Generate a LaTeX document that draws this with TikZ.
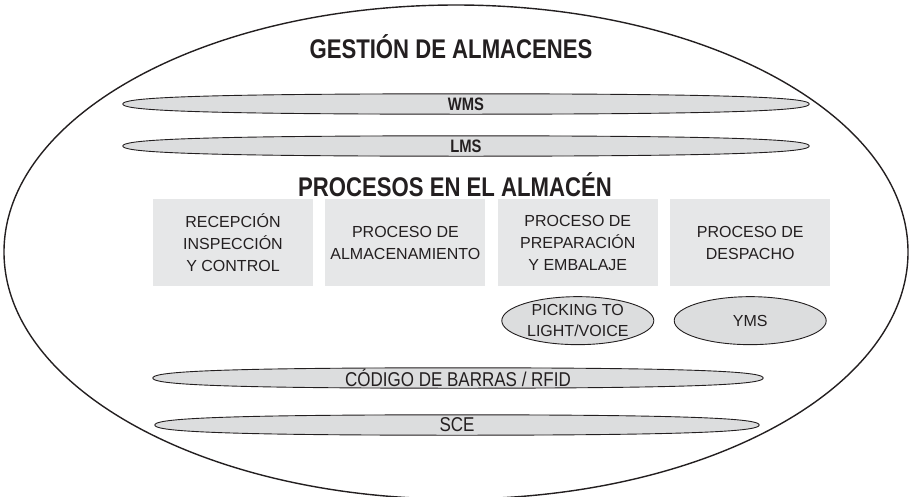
\documentclass[tikz,border=0pt]{standalone}
\usepackage{fontspec}
\setmainfont{Liberation Sans}
\newfontfamily\narrowfont[FakeStretch=0.82]{Liberation Sans}
\newfontfamily\layerfont[FakeStretch=0.85]{Liberation Sans}
\usetikzlibrary{shapes.geometric, positioning, calc}
\definecolor{ink}{HTML}{231F20}
\definecolor{bandgray}{HTML}{DCDDDE}
\definecolor{boxgray}{HTML}{E6E7E8}

% flat lens drawn round an empty node
\newcommand{\lensband}[1]{%
  \path[bandline] (#1.west)
    .. controls ($(#1.west)!0.55!(#1.north west)$) and ($(#1.north west)!0.15!(#1.north)$) .. (#1.north)
    .. controls ($(#1.north east)!0.15!(#1.north)$) and ($(#1.east)!0.55!(#1.north east)$) .. (#1.east)
    .. controls ($(#1.east)!0.55!(#1.south east)$) and ($(#1.south east)!0.15!(#1.south)$) .. (#1.south)
    .. controls ($(#1.south west)!0.15!(#1.south)$) and ($(#1.west)!0.55!(#1.south west)$) .. (#1.west) -- cycle;}

\begin{document}
\begin{tikzpicture}[
    x=1pt, y=-1pt,
    node distance=12pt,
    every node/.append style={text=ink},
    band/.style={rectangle, inner sep=0pt, minimum height=20pt},
    bandline/.style={draw=ink, fill=bandgray, line width=0.9pt},
    procbox/.style={rectangle, fill=boxgray, minimum width=160pt, minimum height=87pt, align=center, inner sep=0pt, font=\fontsize{16}{22}\selectfont},
    tool/.style={ellipse, draw=ink, fill=bandgray, line width=0.9pt, inner sep=0pt, minimum width=152pt, minimum height=48pt},
    heading/.style={font=\narrowfont\bfseries\fontsize{27}{30}\selectfont},
    bandtext/.style={font=\narrowfont\bfseries\fontsize{18}{20}\selectfont},
    tooltext/.style={align=center, font=\fontsize{16}{21}\selectfont},
    layertext/.style={font=\layerfont\fontsize{20}{22}\selectfont}
]
   \useasboundingbox (0,0) rectangle (909,496);

   % Whole warehouse
   \node[ellipse, draw=ink, line width=1.4pt, inner sep=0pt, minimum width=904pt, minimum height=494pt] (gestion) at (456,252) {};
   \node[heading] (gestionTitle) at (451,47) {GESTIÓN DE ALMACENES};

   % Management systems
   \node[band, minimum width=686pt] (wms) at (466,104) {};
   \lensband{wms}
   \node[bandtext] (wmsText) at (wms) {WMS};
   \node[band, minimum width=686pt] (lms) at (466,146) {};
   \lensband{lms}
   \node[bandtext] (lmsText) at (lms) {LMS};

   % Processes
   \node[heading] (procTitle) at (455,185) {PROCESOS EN EL ALMACÉN};
   \node[procbox] (recepcion) at (233,242.5) {RECEPCIÓN\\INSPECCIÓN\\Y CONTROL};
   \node[procbox] (almacen) [right=of recepcion] {PROCESO DE\\ALMACENAMIENTO};
   \node[procbox] (preparacion) [right=of almacen] {PROCESO DE\\PREPARACIÓN\\Y EMBALAJE};
   \node[procbox] (despacho) [right=of preparacion] {PROCESO DE\\DESPACHO};

   % Support tools
   \node[tool] (picking) [below=10pt of preparacion] {};
   \node[tooltext] (pickingText) at (picking) {PICKING TO\\LIGHT/VOICE};
   \node[tool] (yms) [below=10pt of despacho] {};
   \node[tooltext] (ymsText) at (yms) {YMS};

   % Base layers
   \node[band, minimum width=610pt] (codigo) at (458,378) {};
   \lensband{codigo}
   \node[layertext] (codigoText) at (codigo) {CÓDIGO DE BARRAS / RFID};
   \node[band, minimum width=604pt] (sce) at (457,425) {};
   \lensband{sce}
   \node[layertext] (sceText) at (sce) {SCE};
\end{tikzpicture}
\end{document}
